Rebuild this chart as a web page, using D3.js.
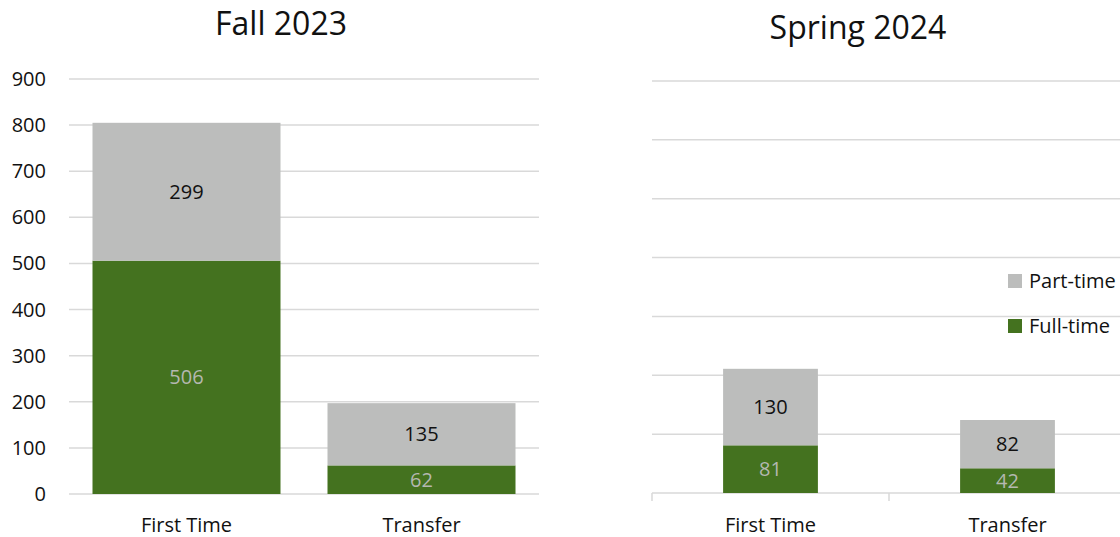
<!DOCTYPE html>
<html>
<head>
<meta charset="utf-8">
<script src="https://cdn.jsdelivr.net/npm/d3@7"></script>
<style>
  body { margin: 0; background: #fff; }
  svg { display: block; font-family: "Open Sans", Lato, sans-serif; }
</style>
</head>
<body>
<svg id="chart" width="1120" height="537"></svg>
<script>
// data
var categories = ["First Time", "Transfer"];
var seriesNames = ["Full-time", "Part-time"];
var fallFullTime = [506, 62];
var fallPartTime = [299, 135];
var springFullTime = [81, 42];
var springPartTime = [130, 82];
var fallTicks = [0, 100, 200, 300, 400, 500, 600, 700, 800, 900];
var springTicks = [0, 100, 200, 300, 400, 500, 600, 700];

var green = "#44721f", grey = "#bcbdbc", gridColor = "#d9d9d9";
var labelSize = 20;

var svg = d3.select("#chart");

function panel(opts) {
  var rows = categories.map(function (c, i) {
    return { cat: c, "Full-time": opts.full[i], "Part-time": opts.part[i] };
  });
  var stacked = d3.stack().keys(seriesNames)(rows);

  var x = d3.scaleBand().domain(categories).range(opts.xRange)
    .paddingInner(opts.padIn).paddingOuter(opts.padOut);
  var y = d3.scaleLinear().domain([0, d3.max(opts.ticks)]).range(opts.yRange);

  var g = svg.append("g");

  // gridlines
  g.append("g").selectAll("line").data(opts.ticks).enter().append("line")
    .attr("x1", opts.xRange[0]).attr("x2", opts.xRange[1])
    .attr("y1", d => y(d)).attr("y2", d => y(d))
    .attr("stroke", gridColor).attr("stroke-width", 1.5);

  // y labels
  if (opts.showY) {
    g.append("g").selectAll("text").data(opts.ticks).enter().append("text")
      .attr("x", 46).attr("y", d => y(d)).attr("dy", "0.35em")
      .attr("text-anchor", "end").attr("font-size", labelSize).attr("fill", "#111")
      .text(d => d);
  }

  // category axis ticks
  if (opts.axisTicks) {
    var step = x.step();
    var edges = d3.range(categories.length + 1).map(i => opts.xRange[0] + i * step);
    g.append("g").selectAll("line").data(edges).enter().append("line")
      .attr("x1", d => d).attr("x2", d => d)
      .attr("y1", y(0)).attr("y2", y(0) + 8)
      .attr("stroke", gridColor).attr("stroke-width", 1.5);
  }

  // bars
  var layer = g.selectAll(".layer").data(stacked).enter().append("g")
    .attr("fill", d => d.key === "Full-time" ? green : grey);
  layer.selectAll("rect").data(d => d).enter().append("rect")
    .attr("x", d => x(d.data.cat))
    .attr("width", x.bandwidth())
    .attr("y", d => y(d[1]))
    .attr("height", d => y(d[0]) - y(d[1]));

  // bar labels
  stacked.forEach(function (s) {
    g.append("g").selectAll("text").data(s).enter().append("text")
      .attr("x", d => x(d.data.cat) + x.bandwidth() / 2)
      .attr("y", d => (y(d[0]) + y(d[1])) / 2)
      .attr("dy", "0.35em")
      .attr("text-anchor", "middle").attr("font-size", labelSize)
      .attr("fill", s.key === "Full-time" ? "#b4b8b0" : "#111")
      .text(d => d[1] - d[0]);
  });

  // category labels
  g.append("g").selectAll("text").data(categories).enter().append("text")
    .attr("x", d => x(d) + x.bandwidth() / 2).attr("y", 525)
    .attr("dy", "0.35em")
    .attr("text-anchor", "middle").attr("font-size", labelSize).attr("fill", "#111")
    .text(d => d);

  // title
  g.append("text")
    .attr("x", opts.titleX).attr("y", opts.titleY)
    .attr("dy", "0.35em")
    .attr("text-anchor", "middle").attr("font-size", 32).attr("fill", "#111")
    .text(opts.title);
}

panel({
  title: "Fall 2023", titleX: 281, titleY: 24,
  full: fallFullTime, part: fallPartTime, ticks: fallTicks,
  xRange: [69, 539], padIn: 0.2, padOut: 0.1,
  yRange: [494, 79], showY: true, axisTicks: false
});

panel({
  title: "Spring 2024", titleX: 858, titleY: 28,
  full: springFullTime, part: springPartTime, ticks: springTicks,
  xRange: [652, 1126], padIn: 0.6, padOut: 0.3,
  yRange: [493, 81], showY: false, axisTicks: true
});

// legend
var legendItems = ["Part-time", "Full-time"];
var legend = svg.append("g").selectAll("g").data(legendItems).enter().append("g")
  .attr("transform", (d, i) => "translate(1008," + (274 + i * 45) + ")");
legend.append("rect").attr("width", 14).attr("height", 14)
  .attr("fill", d => d === "Full-time" ? green : grey);
legend.append("text").attr("x", 21).attr("y", 7).attr("dy", "0.35em")
  .attr("font-size", labelSize).attr("fill", "#111").text(d => d);
</script>
</body>
</html>
